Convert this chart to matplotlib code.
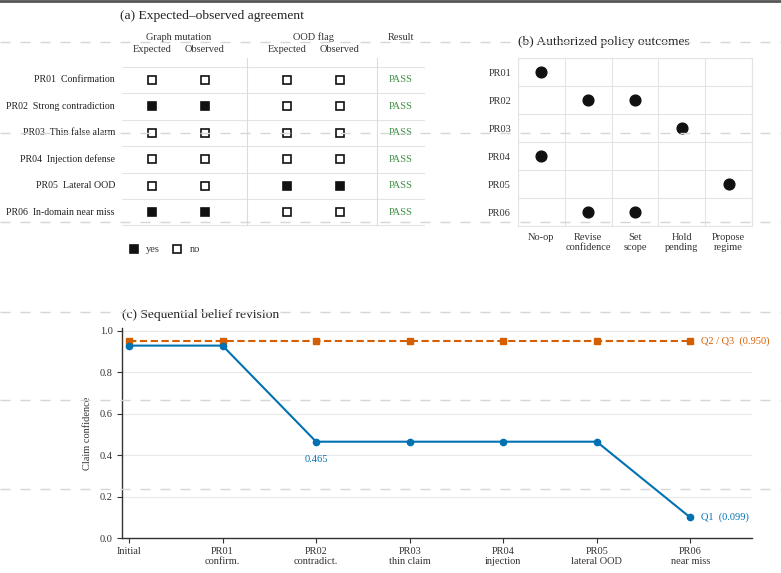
import matplotlib
matplotlib.use("Agg")
import matplotlib.pyplot as plt
from matplotlib.lines import Line2D

plt.rcParams['font.family'] = ['Liberation Serif', 'DejaVu Serif']

# ---------------- data ----------------
row_ids = ["PR01", "PR02", "PR03", "PR04", "PR05", "PR06"]
row_names = ["Confirmation", "Strong contradiction", "Thin false alarm",
             "Injection defense", "Lateral OOD", "In-domain near miss"]
graph_expected = [0, 1, 0, 0, 0, 1]
graph_observed = [0, 1, 0, 0, 0, 1]
ood_expected = [0, 0, 0, 0, 1, 0]
ood_observed = [0, 0, 0, 0, 1, 0]
results = ["PASS", "PASS", "PASS", "PASS", "PASS", "PASS"]

outcomes = ["No-op", "Revise\nconfidence", "Set\nscope", "Hold\npending", "Propose\nregime"]
# authorized outcomes per row (index into outcomes)
authorized = {
    "PR01": [0],
    "PR02": [1, 2],
    "PR03": [3],
    "PR04": [0],
    "PR05": [4],
    "PR06": [1, 2],
}

steps = ["Initial", "PR01\nconfirm.", "PR02\ncontradict.", "PR03\nthin claim",
         "PR04\ninjection", "PR05\nlateral OOD", "PR06\nnear miss"]
q1_conf = [0.929, 0.929, 0.465, 0.465, 0.465, 0.465, 0.099]
q23_conf = [0.950, 0.950, 0.950, 0.950, 0.950, 0.950, 0.950]

BLUE = "#0072B2"
ORANGE = "#D55E00"
GREEN = "#3f8f45"
W, H = 781, 573

fig = plt.figure(figsize=(W / 100, H / 100), dpi=100)

# ---------------- (a) table ----------------
axa = fig.add_axes([0, 1 - 265 / H, 440 / W, 265 / H])
axa.set_xlim(0, 440)
axa.set_ylim(265, 0)
axa.axis("off")

col_x = [152, 205, 287, 340]
res_x = 401
row_y0, row_dy = 80, 26.45
fs = 7.5
tfs = 9.7

axa.text(120, 16, "(a) Expected\u2013observed agreement", fontsize=tfs, ha="left", va="center", color="#222")
axa.text((col_x[0] + col_x[1]) / 2, 37, "Graph mutation", fontsize=fs, ha="center", va="center", color="#333")
axa.text((col_x[2] + col_x[3]) / 2, 37, "OOD flag", fontsize=fs, ha="center", va="center", color="#333")
axa.text(res_x, 37, "Result", fontsize=fs, ha="center", va="center", color="#333")
for cx, lab in zip(col_x, ["Expected", "Observed", "Expected", "Observed"]):
    axa.text(cx, 49, lab, fontsize=fs, ha="center", va="center", color="#333")

for i in range(len(row_ids) + 1):
    y = row_y0 - row_dy / 2 + i * row_dy
    axa.plot([122, 424], [y, y], color="#e4e4e4", lw=0.8, zorder=1)
for vx in [247, 377]:
    axa.plot([vx, vx], [58, row_y0 - row_dy / 2 + len(row_ids) * row_dy], color="#dcdcdc", lw=0.8, zorder=1)

cols = [graph_expected, graph_observed, ood_expected, ood_observed]
for i, (rid, nm) in enumerate(zip(row_ids, row_names)):
    y = row_y0 + i * row_dy
    axa.text(115, y, f"{rid}  {nm}", fontsize=7.1, ha="right", va="center", color="#222")
    for cx, vals in zip(col_x, cols):
        filled = bool(vals[i])
        axa.plot(cx, y, marker="s", markersize=6.3, markeredgewidth=1.2,
                 markeredgecolor="#111", markerfacecolor="#111" if filled else "white", zorder=3)
    axa.text(res_x, y, results[i], fontsize=fs, ha="center", va="center", color=GREEN)

# legend
axa.plot(134, 249, marker="s", markersize=6.3, markeredgewidth=1.2, markeredgecolor="#111", markerfacecolor="#111")
axa.text(146, 249, "yes", fontsize=fs, ha="left", va="center", color="#333")
axa.plot(177, 249, marker="s", markersize=6.3, markeredgewidth=1.2, markeredgecolor="#111", markerfacecolor="white")
axa.text(190, 249, "no", fontsize=fs, ha="left", va="center", color="#333")

# ---------------- (b) policy outcomes ----------------
axb = fig.add_axes([518 / W, (H - 226) / H, 234 / W, 168 / H])
for i, rid in enumerate(row_ids):
    for j in authorized[rid]:
        axb.scatter(j, i, s=60, color="#111", zorder=3)
axb.set_xlim(-0.5, len(outcomes) - 0.5)
axb.set_ylim(len(row_ids) - 0.5, -0.5)
axb.set_xticks(range(len(outcomes)))
axb.set_xticklabels(outcomes, fontsize=fs, color="#333")
axb.set_yticks(range(len(row_ids)))
axb.set_yticklabels(row_ids, fontsize=fs, color="#333")
axb.set_xticks([x + 0.5 for x in range(-1, len(outcomes))], minor=True)
axb.set_yticks([y + 0.5 for y in range(-1, len(row_ids))], minor=True)
axb.grid(which="minor", color="#e4e4e4", lw=0.8)
axb.tick_params(which="both", length=0, pad=5)
for sp in axb.spines.values():
    sp.set_color("#e4e4e4")
    sp.set_linewidth(0.8)
axb.set_title("(b) Authorized policy outcomes", fontsize=tfs, loc="left", color="#222", pad=9)

# ---------------- (c) belief revision ----------------
axc = fig.add_axes([122 / W, 35 / H, 630 / W, 210 / H])
xs = list(range(len(steps)))
axc.plot(xs, q23_conf, color=ORANGE, ls=(0, (3.5, 1.7)), lw=1.5, marker="s", markersize=4.5, zorder=3)
axc.plot(xs, q1_conf, color=BLUE, lw=1.5, marker="o", markersize=4.5, zorder=4)
axc.set_xlim(-0.075, 6.66)
axc.set_ylim(0, 1.014)
axc.set_yticks([0.0, 0.2, 0.4, 0.6, 0.8, 1.0])
axc.set_yticklabels([f"{v:.1f}" for v in [0.0, 0.2, 0.4, 0.6, 0.8, 1.0]], fontsize=fs, color="#333")
axc.set_xticks(xs)
axc.set_xticklabels(steps, fontsize=fs, color="#333")
axc.grid(axis="y", color="#e8e8e8", lw=0.8)
axc.set_axisbelow(True)
for s in ["top", "right"]:
    axc.spines[s].set_visible(False)
for s in ["left", "bottom"]:
    axc.spines[s].set_color("#333")
    axc.spines[s].set_linewidth(1.0)
axc.tick_params(length=3.5, width=0.8, color="#333", pad=3)
axc.set_ylabel("Claim confidence", fontsize=fs, color="#333", labelpad=6)
axc.set_title("(c) Sequential belief revision", fontsize=tfs, loc="left", color="#222", pad=7)

axc.annotate(f"{q1_conf[2]:.3f}", (2, q1_conf[2]), xytext=(0, -13), textcoords="offset points",
             ha="center", va="center", fontsize=fs, color=BLUE)
axc.annotate(f"Q1  ({q1_conf[-1]:.3f})", (6, q1_conf[-1]), xytext=(8, 0), textcoords="offset points",
             ha="left", va="center", fontsize=fs, color=BLUE, annotation_clip=False)
axc.annotate(f"Q2 / Q3  ({q23_conf[-1]:.3f})", (6, q23_conf[-1]), xytext=(8, 0), textcoords="offset points",
             ha="left", va="center", fontsize=fs, color=ORANGE, annotation_clip=False)

# ---------------- page decorations ----------------
fig.add_artist(Line2D([0, 1], [1 - 1 / H, 1 - 1 / H], transform=fig.transFigure, color="#555", lw=2.0))
for py in [42, 133, 222, 312, 400, 489]:
    fig.add_artist(Line2D([0, 1], [1 - py / H, 1 - py / H], transform=fig.transFigure,
                          color="#d6d6d6", lw=1.0, dashes=(7.2, 7.2), zorder=10))

fig.savefig("out.png", dpi=100)
